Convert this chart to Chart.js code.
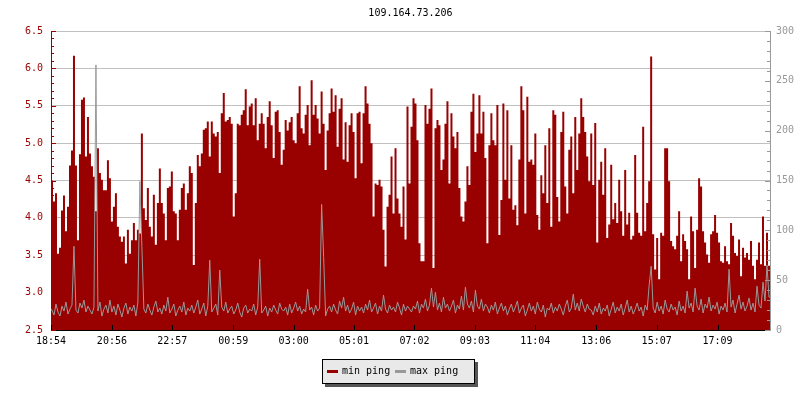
<!DOCTYPE html>
<html>
<head>
<meta charset="utf-8">
<script src="https://cdn.jsdelivr.net/npm/chart.js@4.4.0/dist/chart.umd.min.js"></script>
<style>
  html, body { margin: 0; padding: 0; background: #fff; }
</style>
</head>
<body>
<canvas id="pingChart" width="800" height="400"></canvas>
<script>
const chartTitle = "109.164.73.206";
const tickLabels = ["18:54", "20:56", "22:57", "00:59", "03:00", "05:01",
  "07:02", "09:03", "11:04", "13:06", "15:07", "17:09"];
const legendLabels = ["min ping", "max ping"];
const stepMinutes = 4;

// min ping, ms (left axis)
const minPing = [
  4.50, 4.22, 4.33, 3.52, 3.60, 4.10, 4.30, 3.82, 4.15, 4.70,
  4.90, 6.17, 4.70, 3.70, 4.85, 5.58, 5.61, 4.82, 5.35, 4.86,
  4.69, 4.55, 4.09, 4.93, 4.60, 4.51, 4.37, 4.37, 4.77, 4.53,
  3.95, 4.15, 4.33, 3.88, 3.75, 3.68, 3.75, 3.39, 3.84, 3.52,
  3.70, 3.93, 3.70, 3.84, 3.79, 5.13, 4.13, 3.97, 4.40, 3.88,
  3.75, 4.31, 3.64, 4.20, 4.66, 4.20, 4.06, 3.70, 4.40, 4.42,
  4.62, 4.09, 4.06, 3.70, 4.11, 4.40, 4.46, 4.11, 4.33, 4.69,
  4.60, 3.37, 4.20, 4.84, 4.69, 4.86, 5.18, 5.20, 5.29, 4.82,
  5.29, 5.13, 5.09, 5.15, 4.60, 5.40, 5.67, 5.29, 5.31, 5.35,
  5.26, 4.02, 4.33, 5.26, 5.24, 5.38, 5.44, 5.72, 5.24, 5.49,
  5.53, 5.24, 5.60, 5.04, 5.26, 5.40, 5.26, 4.93, 5.35, 5.56,
  5.24, 4.80, 5.42, 5.44, 5.15, 4.71, 4.91, 5.31, 5.17, 5.28,
  5.35, 5.04, 5.00, 5.40, 5.76, 5.20, 5.13, 5.38, 5.51, 4.97,
  5.84, 5.38, 5.51, 5.33, 5.13, 5.69, 5.26, 4.64, 5.17, 5.40,
  5.73, 5.42, 5.64, 4.95, 5.46, 5.60, 4.78, 5.28, 4.75, 5.24,
  5.40, 5.15, 4.53, 5.40, 5.42, 4.73, 5.40, 5.76, 5.53, 5.26,
  5.00, 4.02, 4.46, 4.44, 4.51, 4.42, 3.84, 3.35, 4.15, 4.31,
  4.82, 4.06, 4.93, 4.26, 4.06, 3.88, 4.42, 3.71, 5.49, 4.46,
  5.22, 5.60, 5.53, 5.04, 3.66, 3.42, 3.42, 5.51, 5.26, 5.46,
  5.73, 3.33, 5.20, 5.31, 5.24, 4.64, 4.78, 5.26, 5.56, 4.46,
  5.40, 5.09, 4.93, 5.15, 4.40, 4.02, 3.95, 4.22, 4.69, 4.44,
  5.42, 5.66, 4.88, 5.13, 5.64, 5.13, 5.42, 4.80, 3.66, 4.97,
  5.40, 5.04, 4.97, 5.51, 3.77, 4.24, 5.53, 4.51, 5.44, 4.26,
  4.97, 4.11, 4.17, 3.90, 4.78, 5.76, 5.44, 4.06, 5.62, 4.75,
  4.78, 4.71, 5.13, 4.04, 3.84, 4.57, 4.33, 4.97, 4.20, 5.20,
  3.88, 5.44, 5.38, 4.28, 3.95, 5.15, 5.42, 4.42, 4.06, 4.91,
  5.09, 4.33, 5.35, 4.64, 5.13, 5.60, 5.35, 5.15, 4.82, 4.49,
  5.13, 4.44, 5.27, 3.67, 4.51, 4.75, 4.31, 4.93, 3.73, 3.91,
  4.71, 3.98, 4.20, 3.93, 4.51, 4.09, 3.76, 4.64, 3.91, 4.07,
  3.71, 3.76, 4.84, 4.07, 3.80, 3.76, 5.22, 3.82, 4.20, 4.49,
  6.16, 3.78, 3.31, 3.73, 3.18, 3.80, 3.76, 4.93, 4.93, 4.49,
  3.69, 3.62, 3.58, 3.76, 4.09, 3.42, 3.78, 3.69, 3.58, 3.18,
  4.02, 3.82, 3.33, 3.84, 4.53, 4.42, 3.82, 3.67, 3.51, 3.40,
  3.78, 3.82, 4.04, 3.80, 3.67, 3.42, 3.40, 3.62, 3.42, 3.38,
  3.93, 3.76, 3.53, 3.49, 3.71, 3.22, 3.60, 3.47, 3.53, 3.44,
  3.69, 3.36, 3.18, 3.44, 3.67, 3.38, 4.02, 3.36, 3.80, 3.36
];

// max ping (right axis)
const maxPing = [
  22, 15, 26, 18, 14, 24, 19, 28, 16, 21,
  25, 84, 20, 17, 27, 22, 30, 18, 24, 20,
  16, 23, 266, 19, 28, 14, 21, 25, 17, 30,
  18, 24, 15, 26, 20, 13, 22, 27, 16, 23,
  19, 25, 14, 28, 149, 84, 21, 17, 26, 20,
  15, 23, 29, 18, 22, 16, 25, 19, 33, 17,
  21, 26, 14, 20, 24, 18, 28, 15, 22, 19,
  25, 17, 23, 30, 16, 21, 27, 14, 24, 70,
  18, 22, 26, 15, 60, 23, 19, 28, 17, 21,
  24, 16, 20, 27, 18, 13, 22, 25, 17, 21,
  19, 26, 15, 23, 71, 17, 20, 24, 14, 22,
  18, 25, 20, 16, 27, 21, 19, 23, 15, 26,
  17, 22, 28, 19, 24, 16, 21, 18, 41, 20,
  23, 15, 25, 19, 22, 126, 74, 14, 21, 24,
  18, 26, 20, 16, 29, 22, 33, 19, 25, 17,
  21, 28, 15, 24, 19, 23, 17, 26, 20, 30,
  18, 22, 27, 16, 24, 19, 35, 21, 17, 25,
  20, 23, 18, 28, 22, 15, 26, 19, 24, 21,
  18, 24, 21, 29, 17, 26, 22, 31, 19, 25,
  42, 23, 38, 20, 27, 18, 33, 22, 26, 19,
  24, 30, 17, 25, 21, 34, 20, 43, 26, 22,
  29, 18, 40, 24, 21, 31, 19, 26, 23, 17,
  25, 20, 28, 16, 22, 27, 19, 24, 15, 21,
  26, 18, 23, 29, 17, 22, 25, 14, 20, 27,
  19, 24, 16, 28, 21, 18, 25, 13, 22, 20,
  27, 17, 23, 19, 26, 21, 15, 24, 30, 18,
  22, 36, 20, 27, 19, 31, 24, 18, 26, 21,
  20, 15, 24, 18, 27, 16, 22, 19, 25, 14,
  21, 28, 17, 23, 19, 26, 15, 22, 30, 18,
  24, 16, 21, 27, 19, 23, 14, 25, 20, 45,
  64, 22, 17, 28, 19, 24, 16, 30, 21, 18,
  26, 20, 23, 15, 29, 19, 24, 17, 39, 22,
  27, 18, 42, 24, 20, 31, 17, 26, 22, 33,
  19, 25, 21, 28, 16, 24, 20, 27, 18, 61,
  23, 30, 17, 26, 35, 21, 28, 19, 24, 32,
  20, 27, 18, 44, 25, 22, 48, 29, 65, 33
];

const RED = "#990000";
const GRAY = "#999999";
const FONT = { family: "'DejaVu Sans Mono', monospace", size: 10 };

// minutes after the first label for each tick label
const toMin = (s) => { const [h, m] = s.split(":").map(Number); return h * 60 + m; };
const tickMinutes = tickLabels.map((s) => (toMin(s) - toMin(tickLabels[0]) + 1440) % 1440);

const toPoints = (arr) => {
  const pts = arr.map((v, i) => ({ x: i * stepMinutes + stepMinutes / 2, y: v }));
  pts.unshift({ x: 0, y: arr[0] });
  pts.push({ x: arr.length * stepMinutes, y: arr[arr.length - 1] });
  return pts;
};

const axisMarks = {
  id: "axisMarks",
  afterDatasetsDraw(chart) {
    const { ctx, chartArea: a, scales } = chart;
    ctx.save();
    ctx.lineWidth = 1;

    ctx.strokeStyle = RED;
    for (let k = 0; k <= 40; k++) {
      const y = Math.round(scales.y.getPixelForValue(2.5 + k * 0.1)) + 0.5;
      ctx.beginPath();
      ctx.moveTo(a.left, y);
      ctx.lineTo(a.left + (k % 5 === 0 ? 5 : 3), y);
      ctx.stroke();
    }

    ctx.strokeStyle = GRAY;
    for (let k = 0; k <= 30; k++) {
      const y = Math.round(scales.y1.getPixelForValue(k * 10)) + 0.5;
      ctx.beginPath();
      ctx.moveTo(a.right, y);
      ctx.lineTo(a.right - (k % 5 === 0 ? 5 : 3), y);
      ctx.stroke();
    }

    ctx.strokeStyle = "#000";
    scales.x.ticks.forEach((t) => {
      const x = Math.round(scales.x.getPixelForValue(t.value)) + 0.5;
      ctx.beginPath();
      ctx.moveTo(x, a.bottom);
      ctx.lineTo(x, a.bottom - 5);
      ctx.stroke();
    });
    ctx.restore();
  },
  afterDraw(chart) {
    const { ctx, chartArea: a } = chart;
    ctx.save();
    ctx.font = `${FONT.size}px ${FONT.family}`;
    ctx.fillStyle = "#000";
    ctx.textAlign = "center";
    ctx.textBaseline = "middle";
    ctx.fillText(chartTitle, (a.left + a.right) / 2, 13);

    // legend box
    const bx = 322, by = 359, bw = 153, bh = 25;
    ctx.fillStyle = "#555";
    ctx.fillRect(bx + 3, by + 3, bw, bh);
    ctx.fillStyle = "#e9e9e9";
    ctx.fillRect(bx, by, bw, bh);
    ctx.strokeStyle = "#000";
    ctx.lineWidth = 1;
    ctx.strokeRect(bx + 0.5, by + 0.5, bw - 1, bh - 1);

    const cy = by + 12.5;
    ctx.lineWidth = 3;
    ctx.textAlign = "left";
    [[RED, 327], [GRAY, 395]].forEach(([col, x0], i) => {
      ctx.strokeStyle = col;
      ctx.beginPath();
      ctx.moveTo(x0, cy);
      ctx.lineTo(x0 + 11, cy);
      ctx.stroke();
      ctx.fillStyle = "#000";
      ctx.fillText(legendLabels[i], x0 + 15, cy);
    });
    ctx.restore();
  }
};

new Chart(document.getElementById("pingChart"), {
  type: "line",
  data: {
    datasets: [
      {
        label: legendLabels[1],
        data: toPoints(maxPing),
        yAxisID: "y1",
        borderColor: GRAY,
        borderWidth: 1,
        pointRadius: 0,
        tension: 0,
        fill: false,
        order: 1,
      },
      {
        label: legendLabels[0],
        data: toPoints(minPing),
        yAxisID: "y",
        backgroundColor: RED,
        borderColor: RED,
        borderWidth: 0,
        pointRadius: 0,
        stepped: "middle",
        fill: "start",
        order: 2,
      },
    ],
  },
  options: {
    responsive: false,
    animation: false,
    devicePixelRatio: 1,
    layout: { padding: { top: 31, left: 0, right: 0, bottom: 0 } },
    plugins: { legend: { display: false }, tooltip: { enabled: false } },
    scales: {
      x: {
        type: "linear",
        min: 0,
        max: minPing.length * stepMinutes,
        afterBuildTicks: (s) => { s.ticks = tickMinutes.map((v) => ({ value: v })); },
        afterFit: (s) => { s.height = 70; },
        ticks: {
          autoSkip: false,
          maxRotation: 0,
          color: "#000",
          font: FONT,
          padding: 5,
          callback: (v, i) => tickLabels[i],
        },
        grid: { display: false, drawTicks: false },
        border: { color: "#000", width: 1 },
      },
      y: {
        position: "left",
        min: 2.5,
        max: 6.5,
        afterFit: (s) => { s.width = 51; },
        ticks: {
          stepSize: 0.5,
          color: RED,
          font: FONT,
          padding: 8,
          callback: (v) => v.toFixed(1),
        },
        grid: { color: "#c0c0c0", drawTicks: false },
        border: { color: RED, width: 1 },
      },
      y1: {
        position: "right",
        min: 0,
        max: 300,
        afterFit: (s) => { s.width = 30; },
        ticks: { stepSize: 50, color: GRAY, font: FONT, padding: 6 },
        grid: { drawOnChartArea: false, drawTicks: false },
        border: { color: GRAY, width: 1 },
      },
    },
  },
  plugins: [axisMarks],
});
</script>
</body>
</html>
